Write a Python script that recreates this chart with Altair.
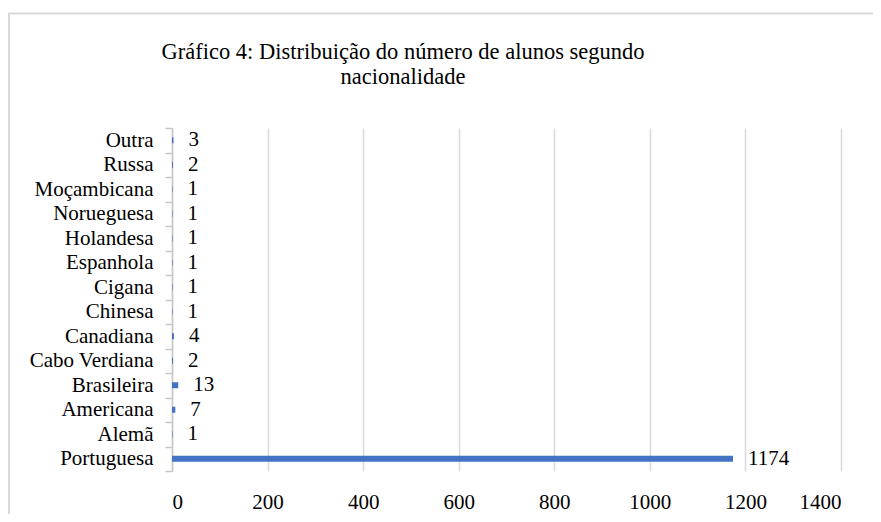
import altair as alt
import pandas as pd

categories = ["Portuguesa", "Alemã", "Americana", "Brasileira", "Cabo Verdiana",
              "Canadiana", "Chinesa", "Cigana", "Espanhola", "Holandesa",
              "Norueguesa", "Moçambicana", "Russa", "Outra"]
values = [1174, 1, 7, 13, 2, 4, 1, 1, 1, 1, 1, 1, 2, 3]
x_ticks = [0, 200, 400, 600, 800, 1000, 1200, 1400]
title_lines = ["Gráfico 4: Distribuição do número de alunos segundo", "nacionalidade"]

df = pd.DataFrame({"Nacionalidade": categories, "Alunos": values})
order = list(reversed(categories))

FONT = "Liberation Serif"
FS = 21

y_enc = alt.Y("Nacionalidade:N", sort=order,
              scale=alt.Scale(paddingInner=0, paddingOuter=0),
              axis=alt.Axis(title=None, tickBand="extent", tickSize=7,
                            tickColor="#c8c8c8", tickWidth=1.5,
                            domainColor="#c8c8c8", domainWidth=1.5,
                            labelPadding=12, labelFontSize=FS, labelFont=FONT,
                            labelColor="#000000", grid=False))
x_enc = alt.X("Alunos:Q", scale=alt.Scale(domain=[0, 1400], nice=False),
              axis=alt.Axis(title=None, values=x_ticks, grid=True, format="d",
                            gridColor="#d9d9d9", gridWidth=1.5,
                            domain=False, ticks=False, labelPadding=20,
                            labelFontSize=FS, labelFont=FONT,
                            labelColor="#000000"))

base = alt.Chart(df)
bars = base.mark_bar(color="#4472C4", size=6).encode(x=x_enc, y=y_enc)
labels = base.mark_text(align="left", baseline="middle", dx=15,
                        font=FONT, fontSize=FS, color="#000000").encode(
    x="Alunos:Q", y=alt.Y("Nacionalidade:N", sort=order), text="Alunos:Q")

one = pd.DataFrame({"b": [0]})
border = alt.Chart(one).mark_rect(
    fillOpacity=0, stroke="#d9d9d9", strokeWidth=2).encode(
    x=alt.value(-163), x2=alt.value(760), y=alt.value(-114.5), y2=alt.value(420))

title = alt.Chart(one).mark_text(
    text=title_lines, font=FONT, fontSize=22.5, color="#000000",
    align="center", baseline="alphabetic", lineHeight=25).encode(
    x=alt.value(231), y=alt.value(-69))

chart = alt.layer(border, bars, labels, title).properties(
    width=669, height=343,
    autosize=alt.AutoSizeParams(type="none"),
    padding={"left": 164, "top": 120, "right": 32, "bottom": 43},
).configure_view(stroke=None)

chart.save("out.html", embed_options={"renderer": "svg", "actions": False})
